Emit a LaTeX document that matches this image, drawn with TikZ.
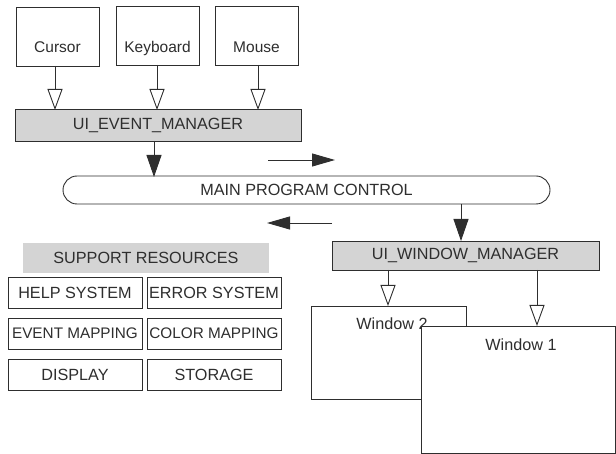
\documentclass[tikz,border=0pt]{standalone}
\usepackage{fontspec}
\setmainfont{Liberation Sans}
\usetikzlibrary{arrows.meta}
\definecolor{ink}{HTML}{2E2E2E}
\definecolor{shade}{HTML}{D4D4D4}
\tikzset{
  txt/.style={text=ink, font=\fontsize{16.2}{18}\selectfont},
  box/.style={draw=ink, line width=0.9pt, fill=white, inner sep=0pt, txt},
  greybox/.style={box, fill=shade},
  resbox/.style={box, minimum width=134pt, minimum height=31pt},
  widelabel/.style={font=\fontsize{15.3}{17}\selectfont},
  devlabel/.style={anchor=base, inner sep=0pt, text=ink, font=\fontsize{15.5}{17}\selectfont},
  openarrow/.style={draw=ink, line width=0.9pt, -{Triangle[open, length=21pt, width=15pt, line width=0.9pt]}},
  solidarrow/.style={draw=ink, line width=0.9pt, -{Triangle[length=22pt, width=15pt]}},
  flowarrow/.style={draw=ink, line width=0.9pt, -{Triangle[length=23pt, width=13pt]}},
}
\begin{document}
\begin{tikzpicture}[x=1pt, y=-1pt]
\useasboundingbox (0,0) rectangle (616,454);

% input devices
\node[box, minimum width=83pt, minimum height=59pt] (cursor) at (57.5,36.5) {};
\node[box, minimum width=83pt, minimum height=59pt] (keyboard) at (157.5,36) {};
\node[box, minimum width=83pt, minimum height=59pt] (mouse) at (256.5,35.5) {};
\node[devlabel] (cursorlbl) at (57.5,53) {Cursor};
\node[devlabel] (keyboardlbl) at (157.5,53) {Keyboard};
\node[devlabel] (mouselbl) at (256.5,52.5) {Mouse};

% event manager
\node[greybox, minimum width=286pt, minimum height=32pt] (evm) at (158,125) {UI\_EVENT\_MANAGER};

\draw[openarrow] (55,66) -- (55,110);
\draw[openarrow] (157,65) -- (157,110);
\draw[openarrow] (258,65) -- (258,110);

% main program control
\node[box, rounded corners=14pt, minimum width=487pt, minimum height=28pt] (main) at (306.5,190) {MAIN PROGRAM CONTROL};

\draw[solidarrow] (154,141) -- (154,177);

% flow direction arrows
\coordinate (fr1) at (268,160);
\coordinate (fr2) at (335,160);
\coordinate (fl1) at (332,223);
\coordinate (fl2) at (267,223);
\draw[flowarrow] (fr1) -- (fr2);
\draw[flowarrow] (fl1) -- (fl2);

% window manager
\node[greybox, minimum width=267pt, minimum height=29pt] (wm) at (465.5,255.5) {UI\_WINDOW\_MANAGER};
\draw[solidarrow] (461,204) -- (461,241);

% windows
\node[box, minimum width=155pt, minimum height=93pt] (win2) at (388.5,352.5) {};
\node[txt] (w2label) at (392,324) {Window 2};
\node[box, minimum width=194pt, minimum height=127pt] (win1) at (518,389.5) {};
\node[txt] (w1label) at (521,345) {Window 1};

\draw[openarrow] (388,270) -- (388,306);
\draw[openarrow] (537,270) -- (537,326);

% support resources
\node[box, draw=none, fill=shade, minimum width=246pt, minimum height=30pt] (support) at (146,258) {SUPPORT RESOURCES};
\node[resbox] (help) at (75,292.5) {HELP SYSTEM};
\node[resbox] (error) at (214,292.5) {ERROR SYSTEM};
\node[resbox, widelabel] (evmap) at (75,333.5) {EVENT MAPPING};
\node[resbox, widelabel] (colmap) at (214,333.5) {COLOR MAPPING};
\node[resbox] (display) at (75,374.5) {DISPLAY};
\node[resbox] (storage) at (214,374.5) {STORAGE};
\end{tikzpicture}
\end{document}
